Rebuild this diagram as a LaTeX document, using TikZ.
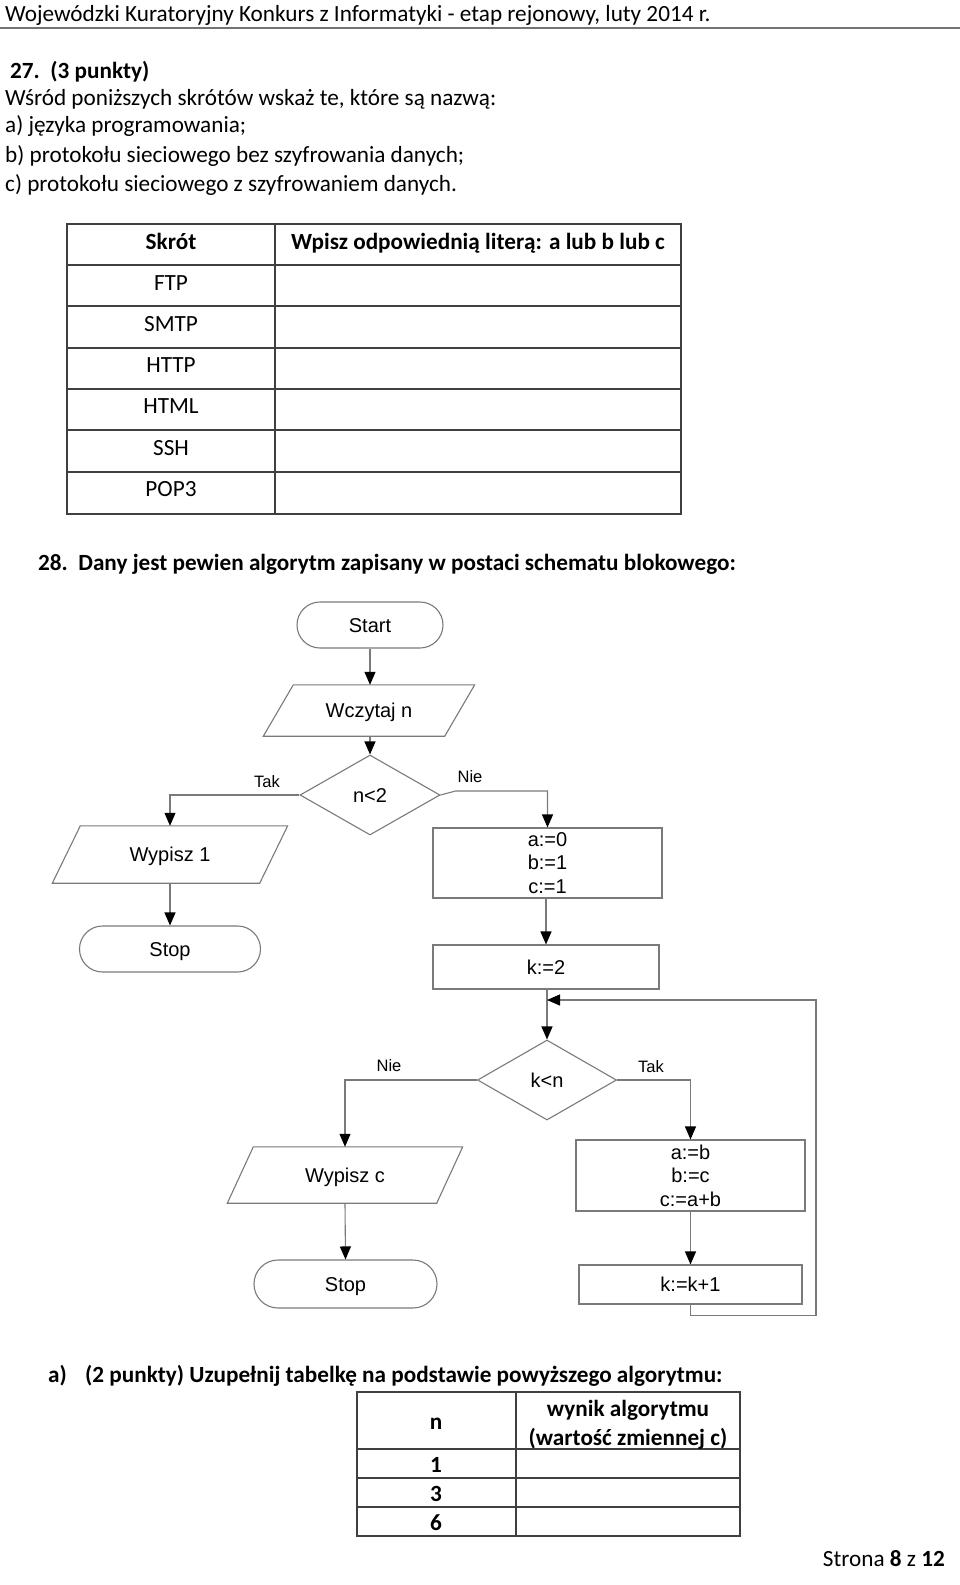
\documentclass[tikz,border=0pt]{standalone}
\usepackage{fontspec}
\setmainfont{Carlito}
\newfontfamily\arialf{Liberation Sans}
\usetikzlibrary{shapes.geometric,arrows.meta}
\definecolor{lc}{HTML}{7A7A7A}
\definecolor{tc}{HTML}{404040}
\begin{document}
\begin{tikzpicture}[x=1pt,y=-1pt,
  txt/.style={font=\fontsize{23.2}{27}\selectfont, inner sep=0pt, anchor=base west},
  ctxt/.style={font=\fontsize{23.2}{27}\selectfont, inner sep=0pt, anchor=base},
  fc/.style={font=\arialf\fontsize{20}{23.5}\selectfont, draw=lc, line width=1.1pt, inner sep=0pt},
  one/.style={text height=14.3pt, text depth=0pt},
  term/.style={fc, one, rounded corners=23pt, minimum height=46pt},
  proc/.style={fc, rectangle, align=center},
  dec/.style={fc, one, diamond, aspect=1.75},
  io/.style={font=\arialf\fontsize{20}{23.5}\selectfont, one, inner sep=0pt},
  lbl/.style={font=\arialf\fontsize{16.5}{19}\selectfont, inner sep=0pt},
  flow/.style={draw=lc, line width=1.1pt, -{Triangle[length=13pt,width=11pt,color=black]}},
  par/.style={draw=lc, line width=1.1pt},
  tline/.style={draw=tc, line width=1.4pt}
]
\useasboundingbox (0,0) rectangle (960,1585);
\fill[white] (0,0) rectangle (960,1585);

% header
\node[txt] (hdr) at (5,21) {Wojewódzki Kuratoryjny Konkurs z Informatyki - etap rejonowy, luty 2014 r.};
\draw[line width=2.5pt, black!55] (0,28) -- (960,28);

% question 27
\node[txt] (q27) at (10,78) {\textbf{27.\ \ (3 punkty)}};
\node[txt] (l1) at (5,105) {Wśród poniższych skrótów wskaż te, które są nazwą:};
\node[txt] (l2) at (5,132) {a) języka programowania;};
\node[txt] (l3) at (5,162) {b) protokołu sieciowego bez szyfrowania danych;};
\node[txt] (l4) at (5,191) {c) protokołu sieciowego z szyfrowaniem danych.};

% table 1
\draw[tline] (67,224) rectangle (681,514);
\draw[tline] (275,224) -- (275,514);
\foreach \yy in {265,306,348,389,430,472} \draw[tline] (67,\yy) -- (681,\yy);
\node[ctxt] (th1) at (171,249) {\textbf{Skrót}};
\node[ctxt] (th2) at (478,249) {\textbf{Wpisz odpowiednią literą: a lub b lub c}};
\node[ctxt] (r1) at (171,290) {FTP};
\node[ctxt] (r2) at (171,331) {SMTP};
\node[ctxt] (r3) at (171,372) {HTTP};
\node[ctxt] (r4) at (171,413) {HTML};
\node[ctxt] (r5) at (171,455) {SSH};
\node[ctxt] (r6) at (171,496) {POP3};

% question 28
\node[txt] (q28) at (38,570) {\textbf{28.\ \ Dany jest pewien algorytm zapisany w postaci schematu blokowego:}};

% flowchart
\node[term, minimum width=146pt] (start) at (370,625) {Start};
\node[io, minimum width=181pt, minimum height=51pt] (wcz) at (369,710.5) {Wczytaj n};
\draw[par] ([xshift=15pt]wcz.north west) -- ([xshift=15pt]wcz.north east) -- ([xshift=-15pt]wcz.south east) -- ([xshift=-15pt]wcz.south west) -- cycle;
\node[dec, minimum width=140pt, minimum height=80pt] (n2) at (370,795) {n<2};
\node[io, minimum width=207pt, minimum height=57pt] (w1) at (170,854.5) {Wypisz 1};
\draw[par] ([xshift=14pt]w1.north west) -- ([xshift=14pt]w1.north east) -- ([xshift=-14pt]w1.south east) -- ([xshift=-14pt]w1.south west) -- cycle;
\node[term, minimum width=181pt] (stop1) at (170,949) {Stop};
\node[proc, minimum width=229pt, minimum height=70pt] (abc) at (547.5,863) {a:=0\\b:=1\\c:=1};
\node[proc, one, minimum width=226pt, minimum height=44pt] (k2) at (546,967) {k:=2};
\node[dec, minimum width=139pt, minimum height=80pt] (kn) at (547,1080) {k<n};
\node[io, minimum width=209pt, minimum height=56pt] (wc) at (345,1175) {Wypisz c};
\draw[par] ([xshift=13pt]wc.north west) -- ([xshift=13pt]wc.north east) -- ([xshift=-13pt]wc.south east) -- ([xshift=-13pt]wc.south west) -- cycle;
\node[term, minimum width=183pt, minimum height=48pt, rounded corners=24pt] (stop2) at (345.5,1284) {Stop};
\node[proc, minimum width=229pt, minimum height=71pt] (ab) at (690.5,1175.5) {a:=b\\b:=c\\c:=a+b};
\node[proc, one, minimum width=223pt, minimum height=39pt] (kk) at (690.5,1284.5) {k:=k+1};

% labels
\node[lbl] (tak1) at (267,782) {Tak};
\node[lbl] (nie1) at (470,777) {Nie};
\node[lbl] (nie2) at (389,1066) {Nie};
\node[lbl] (tak2) at (651,1067) {Tak};

% connectors
\draw[flow] (start.south) -- (wcz.north -| start.south);
\draw[flow] (wcz.south -| n2.north) -- (n2.north);
\draw[flow] (n2.west) -| (w1.north);
\draw[flow] (n2.east) -- ++(15,-4) -| (abc.north);
\draw[flow] (w1.south) -- (stop1.north);
\draw[flow] (abc.south -| k2.north) -- (k2.north);
\draw[flow] (k2.south -| kn.north) -- (kn.north);
\draw[flow] (kn.west) -| (wc.north);
\draw[flow] (kn.east) -| (ab.north);
\draw[flow] (wc.south) -- (stop2.north);
\draw[flow] (ab.south) -- (kk.north);
\coordinate (lp) at (816,1000);
\coordinate (lm) at (kn.north |- lp);
\draw[flow] (kk.south) -- ++(0,11) -| (lp) -- (lm);

% part a
\node[txt] (pa) at (48,1382) {\textbf{a)}};
\node[txt] (pb) at (85,1382) {\textbf{(2 punkty) Uzupełnij tabelkę na podstawie powyższego algorytmu:}};
\draw[tline] (357,1392) rectangle (740,1536);
\draw[tline] (516,1392) -- (516,1536);
\foreach \yy in {1449,1478,1507} \draw[tline] (357,\yy) -- (740,\yy);
\node[ctxt] (tn) at (436,1429) {\textbf{n}};
\node[ctxt] (tw1) at (628,1416) {\textbf{wynik algorytmu}};
\node[ctxt] (tw2) at (628,1445) {\textbf{(wartość zmiennej c)}};
\node[ctxt] (v1) at (436,1472) {\textbf{1}};
\node[ctxt] (v3) at (436,1501) {\textbf{3}};
\node[ctxt] (v6) at (436,1530) {\textbf{6}};

\node[font=\fontsize{23.2}{27}\selectfont, inner sep=0pt, anchor=base east] (pg) at (945,1566) {Strona \textbf{8} z \textbf{12}};
\end{tikzpicture}
\end{document}
